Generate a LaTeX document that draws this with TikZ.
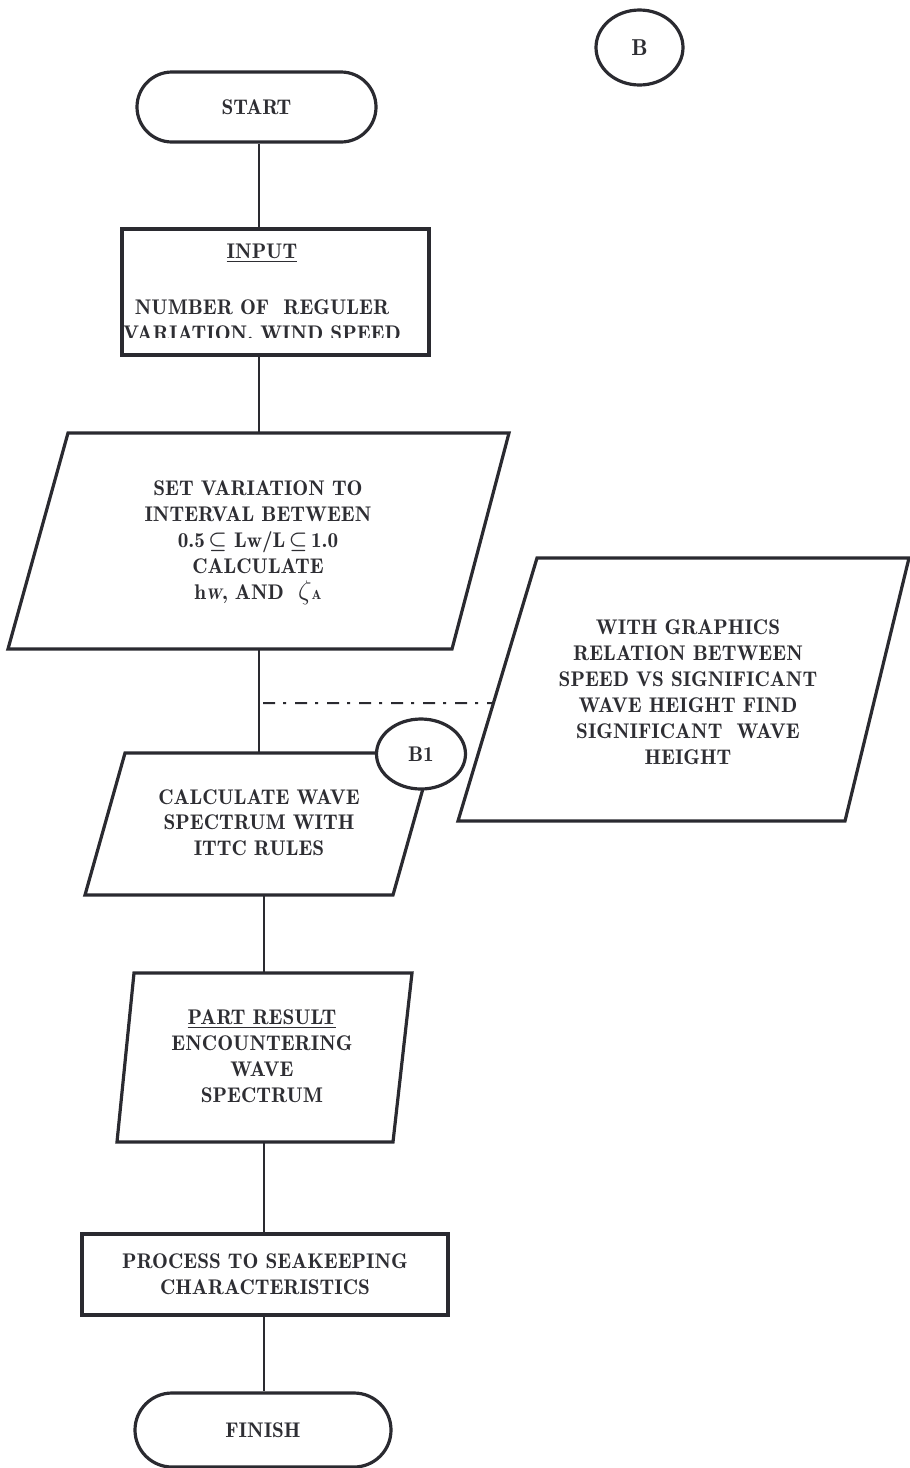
\documentclass[tikz,border=0pt]{standalone}
\usepackage{amsmath}
\usetikzlibrary{shapes.geometric}
\definecolor{ink}{HTML}{2A2A30}
\definecolor{inktext}{HTML}{2E2E33}
\begin{document}
\begin{tikzpicture}[x=1pt,y=-1pt,
  conn/.style={draw=ink, line width=2pt},
  outline/.style={draw=ink, line width=3.2pt, line join=miter, fill=white},
  txt/.style={text=inktext, font=\fontsize{21.2}{26}\fontseries{b}\selectfont, align=center, inner sep=0pt},
  dashdot/.style={conn, dash pattern=on 12pt off 8pt on 3pt off 9pt}]
\path[use as bounding box] (0,0) rectangle (910,1468);

% spines of the main flow
\coordinate (spineA) at (259,0);
\coordinate (spineB) at (264,0);

% start terminal
\node[outline, rounded corners=35pt, minimum width=239pt, minimum height=70pt, txt] (start) at (256.5,107) {START};

% input box
\node[outline, minimum width=307pt, minimum height=126pt] (input) at (275.5,292) {};
\node[txt] (inputhead) at (262,253) {\underline{INPUT}};
\node[txt] (inputbody) at (262,307) {NUMBER OF\ \ REGULER};
\begin{scope}
  \clip (124,300) rectangle (428,337.5);
  \node[txt, anchor=base] (inputcut) at (262,340) {VARIATION,\ WIND SPEED};
\end{scope}

% set variation parallelogram
\coordinate (sv1) at (68,433);
\coordinate (sv2) at (509,433);
\coordinate (sv3) at (452,649);
\coordinate (sv4) at (8,649);
\coordinate (svtop) at (259,433);
\coordinate (svbot) at (259,649);
\draw[outline] (sv1) -- (sv2) -- (sv3) -- (sv4) -- cycle;
\node[txt] (setvar) at (258,543) {SET VARIATION TO\\INTERVAL BETWEEN\\0.5\,$\boldsymbol{\subseteq}$\ Lw/L\,$\boldsymbol{\subseteq}$\,1.0\\CALCULATE\\h\scalebox{0.72}{\itshape W}, AND\ \ \scalebox{1.3}{$\zeta$}\scalebox{0.62}{A}};

% significant wave height parallelogram
\coordinate (wg1) at (537,558);
\coordinate (wg2) at (909,558);
\coordinate (wg3) at (845,821);
\coordinate (wg4) at (458,821);
\draw[outline] (wg1) -- (wg2) -- (wg3) -- (wg4) -- cycle;
\path (wg1) -- (wg4) coordinate[pos=0.5513] (wgleft);
\node[txt] (wgtext) at (688,692.5) {WITH GRAPHICS\\RELATION BETWEEN\\SPEED VS SIGNIFICANT\\WAVE HEIGHT FIND\\SIGNIFICANT\ \ WAVE\\HEIGHT};

% wave spectrum parallelogram
\coordinate (cw1) at (125,753);
\coordinate (cw2) at (433,753);
\coordinate (cw3) at (393,895);
\coordinate (cw4) at (85,895);
\coordinate (cwtop) at (259,753);
\coordinate (cwbot) at (264,895);
\draw[outline] (cw1) -- (cw2) -- (cw3) -- (cw4) -- cycle;
\node[txt, font=\fontsize{21.2}{25.5}\fontseries{b}\selectfont] (calc) at (259,822.5) {CALCULATE WAVE\\SPECTRUM WITH\\ITTC RULES};
\node[outline, ellipse, minimum width=89pt, minimum height=70pt, txt] (b1) at (421,754) {B1};

% part result parallelogram
\coordinate (pr1) at (134,973);
\coordinate (pr2) at (412,973);
\coordinate (pr3) at (393,1142);
\coordinate (pr4) at (117,1142);
\coordinate (prtop) at (264,973);
\coordinate (prbot) at (264,1142);
\draw[outline] (pr1) -- (pr2) -- (pr3) -- (pr4) -- cycle;
\node[txt] (part) at (262,1056) {\underline{PART RESULT}\\ENCOUNTERING\\WAVE\\SPECTRUM};

% process box
\node[outline, minimum width=366pt, minimum height=81pt, txt] (process) at (265,1274.5) {PROCESS TO SEAKEEPING\\CHARACTERISTICS};

% finish terminal
\node[outline, rounded corners=37pt, minimum width=256pt, minimum height=74pt, txt] (finish) at (263,1430) {FINISH};

% page connector
\node[outline, ellipse, minimum width=87pt, minimum height=75pt, txt, font=\fontsize{23}{26}\fontseries{b}\selectfont] (bconn) at (639.5,47.5) {B};

% connectors
\draw[conn] (start.south -| spineA) -- (input.north -| spineA);
\draw[conn] (input.south -| spineA) -- (svtop);
\draw[conn] (svbot) -- (cwtop);
\draw[dashdot] (263,703) coordinate (tap) -- (wgleft);
\draw[conn] (cwbot) -- (prtop);
\draw[conn] (prbot) -- (process.north -| spineB);
\draw[conn] (process.south -| spineB) -- (finish.north -| spineB);
\end{tikzpicture}
\end{document}
